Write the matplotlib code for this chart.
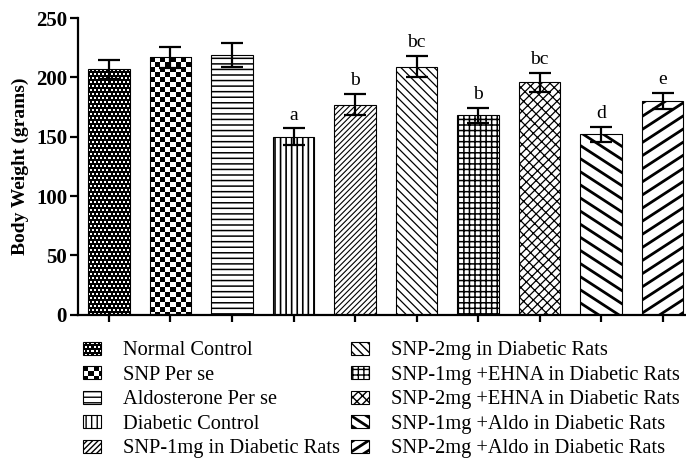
import numpy as np
import matplotlib
matplotlib.use('Agg')
import matplotlib.pyplot as plt
from matplotlib.legend_handler import HandlerPatch
from matplotlib.image import BboxImage
from matplotlib.transforms import Bbox, TransformedBbox
from matplotlib.patches import Rectangle
from matplotlib.collections import LineCollection
from matplotlib.colors import Normalize

plt.rcParams['font.family'] = ['Liberation Serif', 'DejaVu Serif']

groups = ['Normal Control', 'SNP Per se', 'Aldosterone Per se', 'Diabetic Control',
          'SNP-1mg in Diabetic Rats', 'SNP-2mg in Diabetic Rats',
          'SNP-1mg +EHNA in Diabetic Rats', 'SNP-2mg +EHNA in Diabetic Rats',
          'SNP-1mg +Aldo in Diabetic Rats', 'SNP-2mg +Aldo in Diabetic Rats']
weight = [207, 217, 219, 150, 177, 209, 168, 196, 152, 180]
sem = [8, 9, 10, 7, 9, 9, 6.5, 8, 6.5, 7]
letters = ['', '', '', 'a', 'b', 'bc', 'b', 'bc', 'd', 'e']

# fill style per bar: ('img', kind) texture, ('hatch', pattern, lw), ('lines', angle, spacing px, lw)
fills = [('img', 'dots'), ('img', 'checker'),
         ('hatch', '---', 1.1), ('hatch', '|||', 1.2), ('hatch', '//////', 0.8),
         ('hatch', '\\\\\\\\', 0.9), ('hatch', '+++', 1.1), ('hatch', '////\\\\\\', 0.9),
         ('lines', -33, 11.0, 2.0), ('lines', 33, 11.0, 2.0)]


def texture(kind, nr, nc):
    r, c = np.indices((nr, nc))
    if kind == 'checker':
        return (((r // 5) + (c // 5)) % 2).astype(float)
    R, C = r // 2, c // 2
    return ((R % 2 == 0) & ((C + R // 2) % 2 == 0)).astype(float)


def stripe_segments(x0, y0, w, h, angle, spacing):
    t = np.deg2rad(angle)
    d = np.array([np.cos(t), np.sin(t)])
    n = np.array([-d[1], d[0]])
    c = np.array([x0 + w / 2, y0 + h / 2])
    L = np.hypot(w, h)
    k = int(L / spacing) + 2
    return [[c + n * j * spacing - d * L, c + n * j * spacing + d * L] for j in range(-k, k + 1)]


class HandlerTexture(HandlerPatch):
    def __init__(self, fill):
        super().__init__()
        self.fill = fill

    def create_artists(self, legend, orig_handle, xdescent, ydescent, width, height, fontsize, trans):
        rect = Rectangle((-xdescent, -ydescent), width, height, facecolor='white',
                         edgecolor='black', lw=0.8, transform=trans)
        pt = 100 / 72.0
        if self.fill[0] == 'img':
            bb = Bbox.from_bounds(-xdescent, -ydescent, width, height)
            img = BboxImage(TransformedBbox(bb, trans), cmap='gray', norm=Normalize(0, 1),
                            interpolation='nearest')
            img.set_data(texture(self.fill[1], int(round(height * pt)), int(round(width * pt))))
            return [img, Rectangle((-xdescent, -ydescent), width, height, fill=False,
                                   edgecolor='black', lw=0.8, transform=trans)]
        _, ang, sp, lw = self.fill
        segs = stripe_segments(-xdescent, -ydescent, width, height, ang, sp / pt * 0.75)
        lc = LineCollection(segs, colors='black', linewidths=lw, transform=trans)
        lc.set_clip_path(rect)
        return [rect, lc]


fig = plt.figure(figsize=(6.86, 4.63), dpi=100)
ax = fig.add_axes([0.114, 0.320, 0.886, 0.641])

x = np.arange(len(groups))
bars = ax.bar(x, weight, width=0.67, color='white', edgecolor='black', linewidth=0.8, zorder=2)
ax.set_xlim(-0.5, 9.38)
ax.set_ylim(0, 250)
fig.canvas.draw()

px_per_x = ax.transData.transform((1, 0))[0] - ax.transData.transform((0, 0))[0]
px_per_y = ax.transData.transform((0, 1))[1] - ax.transData.transform((0, 0))[1]

for i, b in enumerate(bars):
    f = fills[i]
    x0, w, h = b.get_x(), b.get_width(), b.get_height()
    if f[0] == 'img':
        im = ax.imshow(texture(f[1], int(round(h * px_per_y)), int(round(w * px_per_x))),
                       cmap='gray', norm=Normalize(0, 1), interpolation='nearest',
                       extent=(x0, x0 + w, 0, h), aspect='auto', origin='upper', zorder=1.5)
        im.set_clip_path(b)
        b.set_facecolor('none')
        b.set_zorder(3)
    elif f[0] == 'hatch':
        b.set_hatch(f[1])
        if hasattr(b, 'set_hatch_linewidth'):
            b.set_hatch_linewidth(f[2])
    else:
        _, ang, sp, lw = f
        segs = stripe_segments(x0 * px_per_x, 0, w * px_per_x, h * px_per_y, ang, sp)
        segs = [[(p[0] / px_per_x, p[1] / px_per_y) for p in s] for s in segs]
        lc = LineCollection(segs, colors='black', linewidths=lw, zorder=2.5)
        ax.add_collection(lc, autolim=False)
        lc.set_clip_path(b)

ax.errorbar(x, weight, yerr=sem, fmt='none', ecolor='black', elinewidth=1.6,
            capsize=8, capthick=1.6, zorder=4)

for xi, v, e, t in zip(x, weight, sem, letters):
    if t:
        ax.text(xi, v + e + 4, t, ha='center', va='bottom', fontsize=14)

ax.set_xlim(-0.5, 9.38)
ax.set_ylim(0, 250)
ax.set_yticks([0, 50, 100, 150, 200, 250])
ax.set_xticks(x)
ax.set_xticklabels([])
for s in ['top', 'right']:
    ax.spines[s].set_visible(False)
for s in ['left', 'bottom']:
    ax.spines[s].set_linewidth(1.6)
ax.tick_params(axis='y', length=6, width=1.6, labelsize=15, pad=2)
ax.tick_params(axis='x', length=5, width=1.6)
for lab in ax.get_yticklabels():
    lab.set_fontweight('bold')
ax.set_ylabel('Body Weight (grams)', fontsize=14, fontweight='bold', labelpad=5)

handles = list(bars.patches)
hmap = {handles[i]: HandlerTexture(fills[i]) for i in range(len(fills)) if fills[i][0] != 'hatch'}
fig.legend(handles, groups, handler_map=hmap, loc='upper left', bbox_to_anchor=(0.121, 0.263),
           ncol=2, frameon=False, fontsize=14.7, handlelength=0.89, handleheight=0.6,
           handletextpad=1.05, columnspacing=0.56, labelspacing=0.27, borderpad=0, borderaxespad=0)

fig.savefig('out.png', dpi=100)
